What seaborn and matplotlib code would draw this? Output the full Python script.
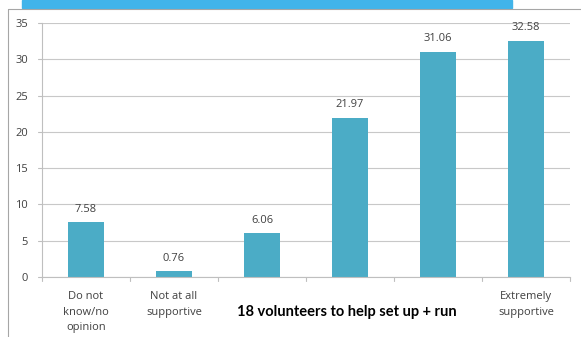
import matplotlib
matplotlib.use("Agg")
import matplotlib.pyplot as plt
import seaborn as sns
import pandas as pd
from matplotlib.lines import Line2D
from matplotlib.patches import Rectangle

categories = ["Do not\nknow/no\nopinion", "Not at all\nsupportive", " ", "  ", "   ", "Extremely\nsupportive"]
values = [7.58, 0.76, 6.06, 21.97, 31.06, 32.58]
value_labels = ["7.58", "0.76", "6.06", "21.97", "31.06", "32.58"]
yticks = [0, 5, 10, 15, 20, 25, 30, 35]
overlay_text = "18 volunteers to help set up + run"

sns.set_theme(style="white")
plt.rcParams['font.family'] = ['Open Sans', 'DejaVu Sans']

df = pd.DataFrame({"cat": categories, "val": values})

fig = plt.figure(figsize=(5.81, 3.37), dpi=100)
ax = fig.add_axes([42/581, 1-277/337, (570-42)/581, (277-23)/337])

sns.barplot(data=df, x="cat", y="val", color="#4BACC6", width=0.4, ax=ax,
            saturation=1, edgecolor="none")

ax.set_ylim(0, 35)
ax.set_xlim(-0.5, 5.5)
ax.set_yticks(yticks)
ax.set_yticklabels([str(t) for t in yticks], fontsize=8, color="#404040")
ax.set_xlabel("")
ax.set_ylabel("")
ax.tick_params(axis="x", length=0, labelsize=8, labelcolor="#404040", pad=10)
ax.tick_params(axis="y", length=0, pad=10)
for lab in ax.get_xticklabels():
    lab.set_linespacing(1.6)

ax.yaxis.grid(True, color="#C8C8C8", linewidth=0.8)
ax.set_axisbelow(True)
for s in ["top", "right"]:
    ax.spines[s].set_visible(False)
ax.spines["left"].set_color("#BFBFBF")
ax.spines["bottom"].set_color("#BFBFBF")
ax.spines["left"].set_linewidth(0.8)
ax.spines["bottom"].set_linewidth(0.8)

# tick marks (Excel style)
for i in range(7):
    ax.plot([i - 0.5, i - 0.5], [0, -0.6], color="#BFBFBF", lw=0.8, clip_on=False)
for t in yticks:
    ax.plot([-0.5 - 0.04, -0.5], [t, t], color="#BFBFBF", lw=0.8, clip_on=False)

for i, (v, lab) in enumerate(zip(values, value_labels)):
    ax.text(i, v + 1.0, lab, ha="center", va="bottom", fontsize=8, color="#404040")

fig.text(347/581, 1-312/337, overlay_text, ha="center", va="center",
         fontsize=10.5, fontweight="bold", color="black", family=["Lato", "DejaVu Sans"])

# header band and frame
fig.patches.append(Rectangle((22/581, 1-8/337), (512-22)/581, 8/337,
                             transform=fig.transFigure, color="#41B4EA", zorder=0))
fig.lines.append(Line2D([8/581, 8/581], [0, 1-9/337], transform=fig.transFigure,
                        color="#A6A6A6", lw=0.8))
fig.lines.append(Line2D([8/581, 1], [1-9/337, 1-9/337], transform=fig.transFigure,
                        color="#A6A6A6", lw=0.8))

fig.savefig("out.png", dpi=100)
